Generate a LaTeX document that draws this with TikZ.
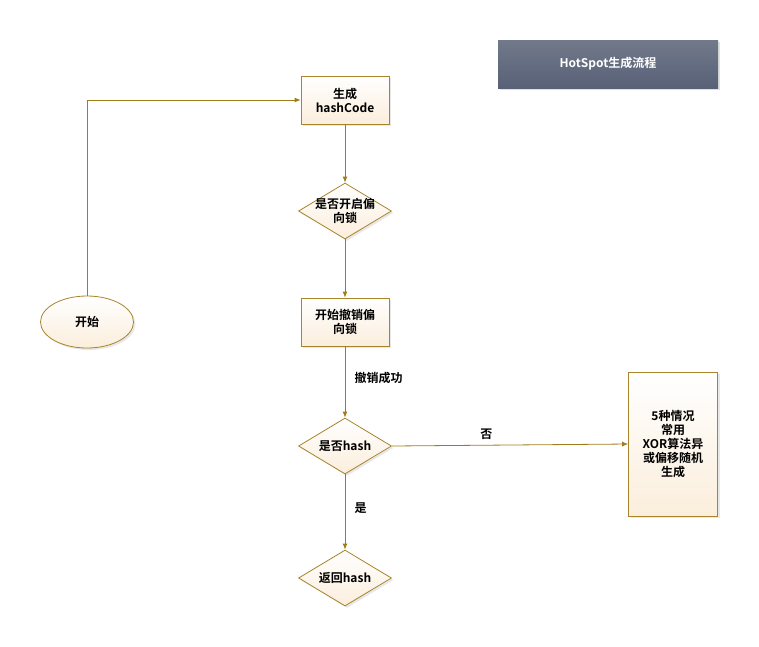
\documentclass[tikz,border=0pt]{standalone}
\usepackage{fontspec}
\setmainfont{Noto Sans CJK SC}[BoldFont={Noto Sans CJK SC Bold}]
\usetikzlibrary{shapes.geometric,arrows.meta,shadows}
\definecolor{edge}{HTML}{A8842C}
\definecolor{line}{HTML}{A07C1C}
\definecolor{cream}{HTML}{FBEEDC}
\definecolor{titlebg}{HTML}{586176}
\tikzset{
  base/.style={draw=edge, line width=0.8pt, top color=white, bottom color=cream, font=\bfseries\fontsize{12}{14}\selectfont, align=center, inner sep=0pt,
    drop shadow={shadow xshift=2pt, shadow yshift=-2pt, fill=black!15, opacity=0.6}},
  procbox/.style={base, rectangle, minimum width=88pt, minimum height=48pt},
  decide/.style={base, diamond, aspect=1.7, minimum width=93pt, minimum height=56pt, inner xsep=-14pt, inner ysep=-8pt},
  startnode/.style={base, ellipse, minimum width=93pt, minimum height=52pt},
  conn/.style={draw=line, line width=0.8pt, -{Latex[length=6pt,width=5pt]}},
  lbl/.style={font=\bfseries\fontsize{12}{14}\selectfont, text=black},
}
\begin{document}
\begin{tikzpicture}[x=1pt,y=-1pt]
\useasboundingbox (0,0) rectangle (759,646);
\node[top color=titlebg!85!white, bottom color=titlebg, minimum width=220pt, minimum height=48pt, text=white, font=\bfseries\fontsize{12}{14}\selectfont,
  drop shadow={shadow xshift=2pt, shadow yshift=-2pt, fill=black!20, opacity=0.6}] (title) at (608,64) {HotSpot生成流程};
\node[procbox] (gen) at (345,100) {生成\\hashCode};
\node[decide] (d1) at (345,211) {是否开启偏\\向锁};
\node[procbox] (revoke) at (345,322) {开始撤销偏\\向锁};
\node[decide] (d2) at (345,446) {是否hash};
\node[decide] (ret) at (345,578) {返回hash};
\node[startnode] (start) at (87,322) {开始};
\node[procbox, minimum width=89pt, minimum height=144pt] (other) at (673,444) {5种情况\\常用\\XOR算法异\\或偏移随机\\生成};
\coordinate (corner) at (start.north |- gen.west);
\draw[conn] (start.north) -- (corner) -- (gen.west);
\draw[conn] (gen.south) -- (d1.north);
\draw[conn] (d1.south) -- (revoke.north);
\draw[conn] (revoke.south) -- node[lbl, right=6pt, pos=0.45] {撤销成功} (d2.north);
\draw[conn] (d2.east) -- node[lbl, above=2pt, pos=0.4] {否} (other.west);
\draw[conn] (d2.south) -- node[lbl, right=6pt, pos=0.45] {是} (ret.north);
\end{tikzpicture}
\end{document}
